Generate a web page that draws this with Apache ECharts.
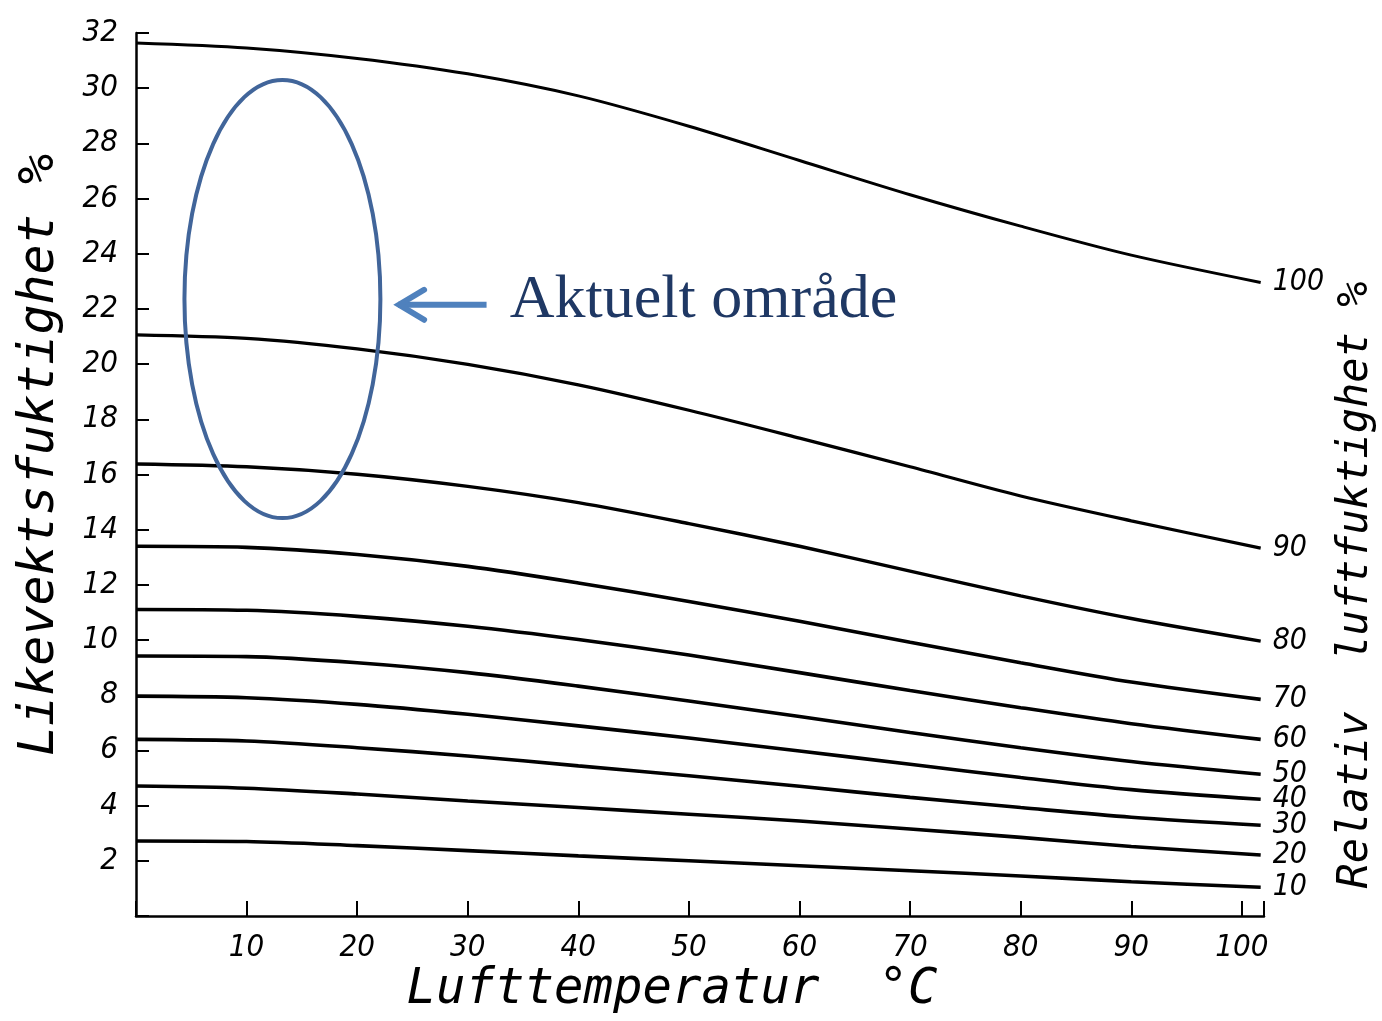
<!DOCTYPE html>
<html>
<head>
<meta charset="utf-8">
<script src="https://cdn.jsdelivr.net/npm/echarts@6/dist/echarts.min.js"></script>
<style>
html,body{margin:0;padding:0;background:#fff;}
#chart{width:1382px;height:1021px;}
</style>
</head>
<body>
<div id="chart"></div>
<script>
// Air temperature (°C) sample points
const temps = [0, 10, 20, 30, 40, 50, 60, 70, 80, 90, 101.7];
// Equilibrium moisture content (%) for each relative humidity level
const rh100 = [31.64, 31.46, 31.08, 30.52, 29.72, 28.62, 27.38, 26.14, 25.00, 23.95, 22.96];
const rh90  = [21.06, 20.93, 20.55, 19.99, 19.25, 18.33, 17.32, 16.28, 15.22, 14.32, 13.33];
const rh80  = [16.38, 16.28, 16.01, 15.57, 14.98, 14.22, 13.40, 12.50, 11.60, 10.78, 9.96];
const rh70  = [13.40, 13.36, 13.10, 12.67, 12.07, 11.40, 10.68, 9.92, 9.18, 8.48, 7.85];
const rh60  = [11.11, 11.08, 10.86, 10.50, 10.02, 9.46, 8.82, 8.17, 7.55, 6.97, 6.40];
const rh50  = [9.42, 9.40, 9.18, 8.82, 8.33, 7.79, 7.23, 6.65, 6.10, 5.60, 5.14];
const rh40  = [7.97, 7.91, 7.67, 7.31, 6.89, 6.45, 5.98, 5.50, 5.02, 4.58, 4.23];
const rh30  = [6.40, 6.34, 6.10, 5.80, 5.44, 5.08, 4.70, 4.30, 3.93, 3.58, 3.29];
const rh20  = [4.71, 4.63, 4.42, 4.17, 3.93, 3.69, 3.44, 3.15, 2.85, 2.52, 2.21];
const rh10  = [2.72, 2.70, 2.55, 2.37, 2.18, 2.00, 1.82, 1.64, 1.45, 1.24, 1.04];
const rhLabels = ['100', '90', '80', '70', '60', '50', '40', '30', '20', '10'];
const rhSeries = [rh100, rh90, rh80, rh70, rh60, rh50, rh40, rh30, rh20, rh10];

// Texts
const yTitle = 'Likevektsfuktighet %';
const xTitle = 'Lufttemperatur  °C';
const rTitle = 'Relativ  luftfuktighet %';
const noteText = 'Aktuelt område';
// Annotation region (data units)
const noteEllipse = {cx: 13.24, cy: 22.36, rx: 8.86, ry: 7.94};
const noteArrow = {x0: 31.7, x1: 23.7, y: 22.15};
const noteTextPos = {x: 33.8, y: 22.28};

const numFont = "'Liberation Sans Narrow', 'DejaVu Sans Condensed', 'Liberation Sans', sans-serif";
const titleFont = "'DejaVu Sans Mono', monospace";

const widths = [3, 3.2, 3.4, 3.6, 3.6, 3.6, 3.6, 3.6, 3.6, 3.6];

const chart = echarts.init(document.getElementById('chart'), null, {renderer: 'canvas'});

const series = rhSeries.map((vals, i) => ({
  name: rhLabels[i],
  type: 'line',
  data: temps.map((t, j) => [t, vals[j]]),
  smooth: 0.3,
  symbol: 'none',
  lineStyle: {color: '#000', width: widths[i]},
  endLabel: {
    show: true,
    formatter: rhLabels[i],
    distance: 12,
    color: '#000',
    fontFamily: numFont,
    fontStyle: 'italic',
    fontSize: 30
  },
  emphasis: {disabled: true},
  silent: true
}));

chart.setOption({
  animation: false,
  backgroundColor: '#fff',
  grid: {left: 136, right: 118, top: 33, bottom: 105, containLabel: false},
  xAxis: {
    type: 'value',
    min: 0, max: 102, interval: 10,
    splitLine: {show: false},
    axisLine: {show: true, onZero: false, lineStyle: {color: '#000', width: 2.5}},
    axisTick: {show: true, inside: true, length: 15, lineStyle: {color: '#000', width: 2}},
    axisLabel: {
      margin: 16,
      color: '#000',
      fontFamily: numFont,
      fontStyle: 'italic',
      fontSize: 31,
      formatter: v => (v > 0 && v % 10 === 0) ? String(v) : ''
    }
  },
  yAxis: {
    type: 'value',
    min: 0, max: 32, interval: 2,
    splitLine: {show: false},
    axisLine: {show: true, onZero: false, lineStyle: {color: '#000', width: 2.5}},
    axisTick: {show: true, inside: true, length: 13, lineStyle: {color: '#000', width: 2}},
    axisLabel: {
      margin: 18,
      color: '#000',
      fontFamily: numFont,
      fontStyle: 'italic',
      fontSize: 31,
      padding: [0, 0, 18, 0],
      formatter: v => v > 0 ? String(v) : ''
    }
  },
  series: series
});

const c = chart.convertToPixel({gridIndex: 0}, [noteEllipse.cx, noteEllipse.cy]);
const e = chart.convertToPixel({gridIndex: 0}, [noteEllipse.cx + noteEllipse.rx, noteEllipse.cy - noteEllipse.ry]);
const a0 = chart.convertToPixel({gridIndex: 0}, [noteArrow.x0, noteArrow.y]);
const a1 = chart.convertToPixel({gridIndex: 0}, [noteArrow.x1, noteArrow.y]);
const tp = chart.convertToPixel({gridIndex: 0}, [noteTextPos.x, noteTextPos.y]);

chart.setOption({
  graphic: [
    {
      type: 'ellipse',
      shape: {cx: c[0], cy: c[1], rx: e[0] - c[0], ry: e[1] - c[1]},
      style: {fill: 'none', stroke: '#41659A', lineWidth: 4},
      silent: true, z: 10
    },
    {
      type: 'polyline',
      shape: {points: [a0, a1]},
      style: {stroke: '#4F81BD', lineWidth: 6, lineCap: 'butt', fill: 'none'},
      silent: true, z: 10
    },
    {
      type: 'polyline',
      shape: {points: [[a1[0] + 26, a1[1] - 15], [a1[0] + 1, a1[1]], [a1[0] + 26, a1[1] + 15]]},
      style: {stroke: '#4F81BD', lineWidth: 6, lineCap: 'round', lineJoin: 'miter', fill: 'none'},
      silent: true, z: 10
    },
    {
      type: 'text',
      x: tp[0], y: tp[1],
      style: {
        text: noteText,
        fill: '#1F3864',
        font: "62px 'Liberation Serif', 'Times New Roman', serif",
        align: 'left', verticalAlign: 'middle',
        textAlign: 'left', textVerticalAlign: 'middle'
      },
      silent: true, z: 10
    },
    {
      type: 'text',
      x: 40, y: 455,
      rotation: Math.PI / 2,
      style: {
        text: yTitle,
        fill: '#000',
        font: "italic 50px " + titleFont,
        align: 'center', verticalAlign: 'middle',
        textAlign: 'center', textVerticalAlign: 'middle'
      },
      silent: true
    },
    {
      type: 'text',
      x: 672, y: 990,
      style: {
        text: xTitle,
        fill: '#000',
        font: "italic 49px " + titleFont,
        align: 'center', verticalAlign: 'middle',
        textAlign: 'center', textVerticalAlign: 'middle'
      },
      silent: true
    },
    {
      type: 'text',
      x: 1356, y: 585,
      rotation: Math.PI / 2,
      style: {
        text: rTitle,
        fill: '#000',
        font: "italic 42px " + titleFont,
        align: 'center', verticalAlign: 'middle',
        textAlign: 'center', textVerticalAlign: 'middle'
      },
      silent: true
    }
  ]
});
</script>
</body>
</html>
